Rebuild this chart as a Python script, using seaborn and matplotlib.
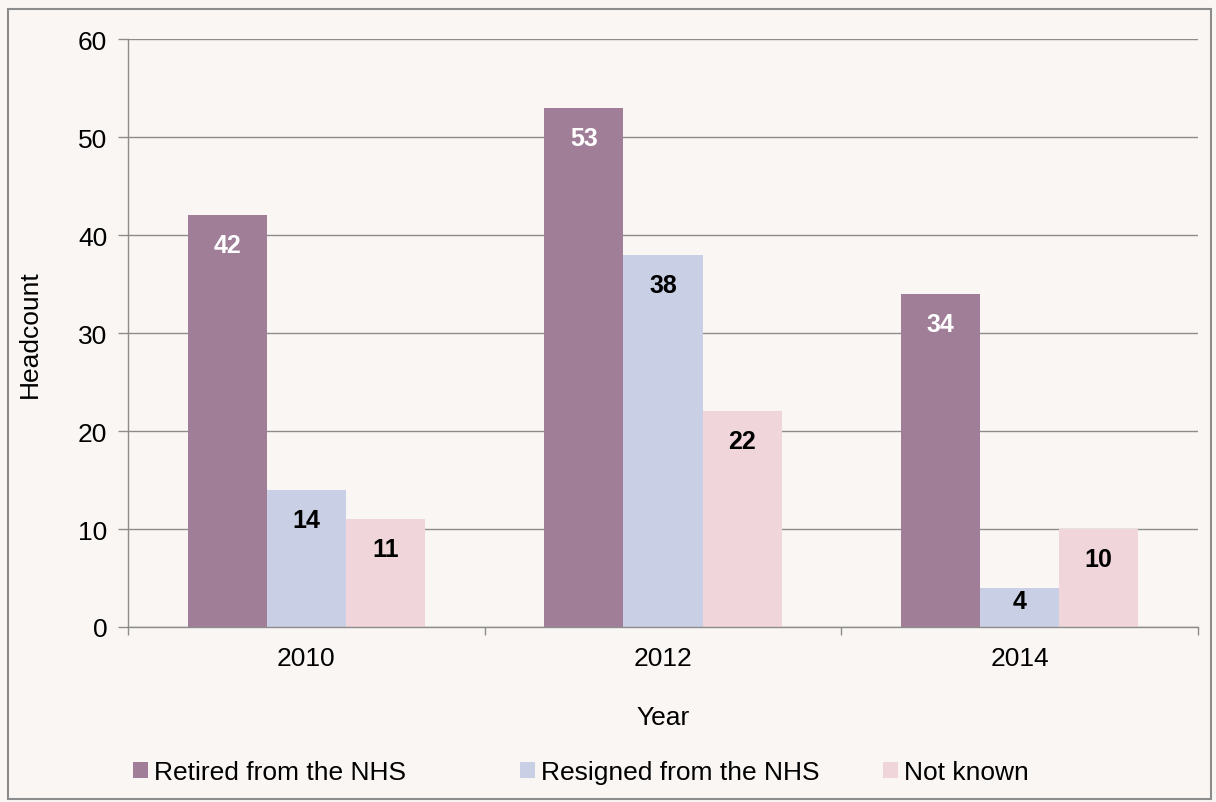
import matplotlib
matplotlib.use("Agg")
import matplotlib.pyplot as plt
from matplotlib.patches import Rectangle
import pandas as pd
import seaborn as sns

# Leavers by year and reason
years = ["2010", "2012", "2014"]
reasons = ["Retired from the NHS", "Resigned from the NHS", "Not known"]
retired = [42, 53, 34]
resigned = [14, 38, 4]
not_known = [11, 22, 10]
y_ticks = [0, 10, 20, 30, 40, 50, 60]

colors = ["#A07E98", "#C9CFE5", "#F0D5DB"]
label_colors = ["white", "black", "black"]
bg = "#FAF6F3"
line_gray = "#8C8C8C"

rows = []
for reason, vals in zip(reasons, [retired, resigned, not_known]):
    for yr, v in zip(years, vals):
        rows.append({"Year": yr, "Reason": reason, "Headcount": v})
df = pd.DataFrame(rows)

sns.set_theme(style="white")
plt.rcParams["font.family"] = ["Liberation Sans", "DejaVu Sans"]
plt.rcParams["text.color"] = "black"

W, H = 1216, 803
fig = plt.figure(figsize=(W / 100, H / 100), dpi=100, facecolor=bg)
ax = fig.add_axes([128 / W, 1 - 628 / H, (1198 - 128) / W, (628 - 40) / H])
ax.set_facecolor(bg)

sns.barplot(data=df, x="Year", y="Headcount", hue="Reason", order=years,
            hue_order=reasons, palette=colors, saturation=1, width=0.665,
            gap=0, linewidth=0, ax=ax, legend=True)

ax.set_ylim(0, 60)
ax.set_xlim(-0.5, 2.5)
ax.set_yticks(y_ticks)
ax.yaxis.grid(True, color=line_gray, linewidth=1.0)
ax.set_axisbelow(True)

for s in ["top", "right"]:
    ax.spines[s].set_visible(False)
for s in ["left", "bottom"]:
    ax.spines[s].set_color(line_gray)
    ax.spines[s].set_linewidth(1.0)

# Category ticks sit on the boundaries between year groups
ax.set_xticks([-0.5, 0.5, 1.5, 2.5], minor=True)
ax.tick_params(axis="x", which="major", length=0, labelsize=19, pad=14,
               colors="black")
ax.tick_params(axis="x", which="minor", length=6, width=1.0, color=line_gray,
               direction="out", bottom=True)
ax.tick_params(axis="y", length=7, width=1.0, color=line_gray, labelsize=19,
               pad=8, left=True, labelcolor="black")

ax.set_xlabel("Year", fontsize=19, labelpad=25, color="black")
ax.set_ylabel("Headcount", fontsize=19, labelpad=26, color="black")

# Value labels just inside the top of each bar
px_per_unit = (628 - 40) / 60
for container, lc in zip(ax.containers, label_colors):
    for bar in container:
        v = bar.get_height()
        h_px = v * px_per_unit
        drop_px = min(30, h_px / 3)
        ax.annotate(f"{int(v)}", xy=(bar.get_x() + bar.get_width() / 2, v),
                    xytext=(0, -drop_px * 0.72), textcoords="offset points",
                    ha="center", va="center", color=lc, fontsize=18,
                    fontweight="bold")

ax.get_legend().remove()
handles = [Rectangle((0, 0), 1, 1, facecolor=c, edgecolor="none") for c in colors]
legend_x = [133, 520, 883]
for h, lab, lx in zip(handles, reasons, legend_x):
    fig.legend([h], [lab], loc="center left",
               bbox_to_anchor=(lx / W, 1 - 773 / H), frameon=False,
               fontsize=19, borderpad=0, borderaxespad=0, labelcolor="black",
               handlelength=0.55, handleheight=0.55, handletextpad=0.25)

# Outer chart frame
fig.patches.append(Rectangle((8 / W, 1 - 800 / H), (1211 - 8) / W, (800 - 10) / H,
                             transform=fig.transFigure, fill=False,
                             edgecolor=line_gray, linewidth=1.5))

fig.savefig("out.png", dpi=100, facecolor=bg)
